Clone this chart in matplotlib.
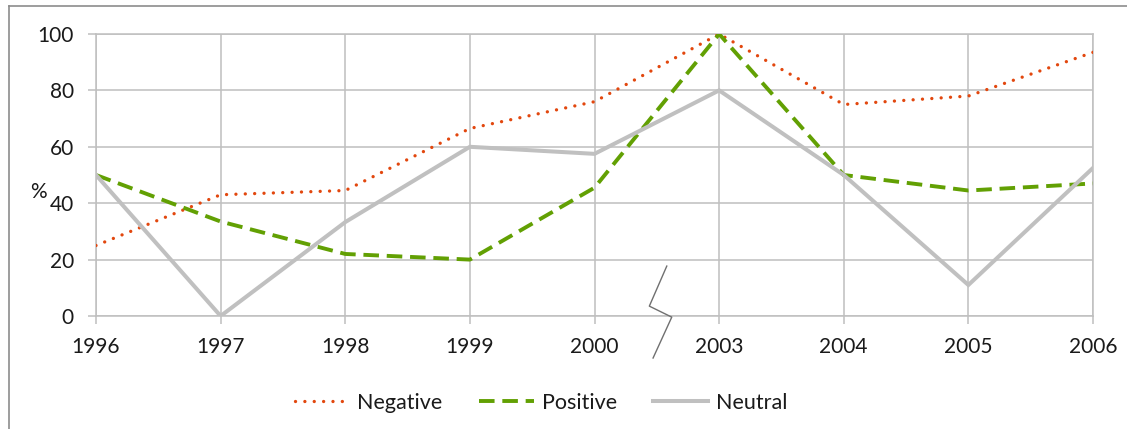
import matplotlib
matplotlib.use("Agg")
import matplotlib.pyplot as plt
from matplotlib.lines import Line2D

plt.rcParams['font.family'] = ['Lato', 'DejaVu Sans']

# survey share per year (%)
years = ['1996', '1997', '1998', '1999', '2000', '2003', '2004', '2005', '2006']
negative = [25, 43, 44.5, 66.5, 76, 100, 75, 78, 93.5]
positive = [50, 33.5, 22, 20, 45.5, 100, 50, 44.5, 47]
neutral = [50, 0, 33.3, 60, 57.5, 80, 50, 11, 52.5]

grid_col = '#bfbfbf'
text_col = '#1a1a1a'

fig = plt.figure(figsize=(11.27, 4.29), dpi=100)
ax = fig.add_axes([96/1127, 1 - 316/429, (1093 - 96)/1127, (316 - 34)/429])

x = list(range(len(years)))
ax.plot(x, negative, color='#e2470e', lw=2.4, linestyle=(0, (0.01, 2.8)),
        dash_capstyle='round', label='Negative', zorder=3)
ax.plot(x, positive, color='#62a003', lw=2.8, linestyle=(0, (4, 2)),
        label='Positive', zorder=3)
ax.plot(x, neutral, color='#c0c0c0', lw=2.9, solid_joinstyle='miter',
        label='Neutral', zorder=3)

ax.set_xlim(0, len(years) - 1)
ax.set_ylim(0, 100)
ax.set_xticks(x)
ax.set_xticklabels(years)
ax.set_yticks(range(0, 101, 20))
ax.grid(True, color=grid_col, lw=1.1)
ax.set_axisbelow(True)
for s in ax.spines.values():
    s.set_color(grid_col)
    s.set_linewidth(1.1)
ax.tick_params(axis='both', colors=grid_col, length=6, width=1.1,
               labelsize=15, labelcolor=text_col)
ax.tick_params(axis='y', pad=10)
ax.tick_params(axis='x', pad=9)

# axis break between 2000 and 2003
bx = [4.58, 4.44, 4.62, 4.47]
by = [17.7, 3.5, -0.4, -14.9]
ax.add_line(Line2D(bx, by, color='#707070', lw=1.0, clip_on=False, zorder=4))

fig.text(30/1127, 1 - 192/429, '%', fontsize=15, color=text_col, va='center')

# outer chart frame (left and top edges)
fig.add_artist(Line2D([9/1127, 9/1127], [0, 1 - 6/429], color='#8c8c8c', lw=1.2,
                      transform=fig.transFigure))
fig.add_artist(Line2D([9/1127, 1], [1 - 6/429, 1 - 6/429], color='#8c8c8c', lw=1.2,
                      transform=fig.transFigure))

fig.legend(loc='center', bbox_to_anchor=(541/1127, 1 - 403/429), ncol=3,
           frameon=False, fontsize=15.5, handlelength=2.55, handletextpad=0.35,
           columnspacing=1.7, labelcolor=text_col)

fig.savefig('out.png', dpi=100)
